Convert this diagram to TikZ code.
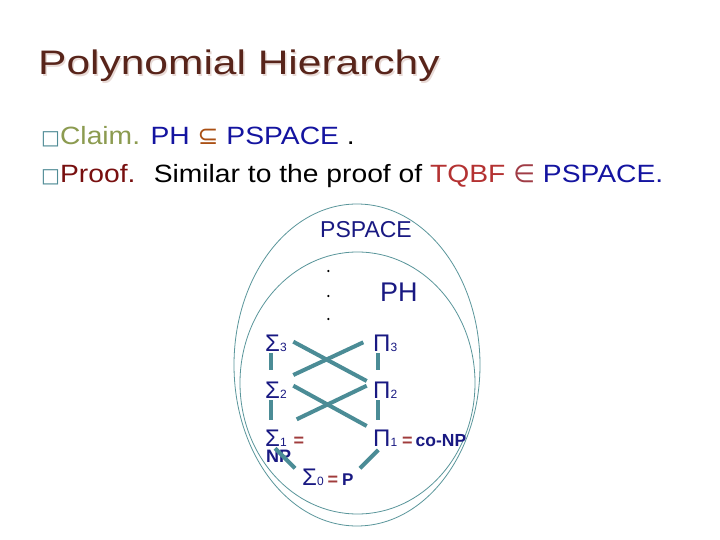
\documentclass[tikz,border=0pt]{standalone}
\usepackage{fontspec}
\setmainfont{Liberation Sans}
\newfontfamily\bodyfont[FakeStretch=1.13]{Liberation Sans}
\newfontfamily\headfont[FakeStretch=1.25]{Liberation Sans}
\newfontfamily\symfont{DejaVu Sans}
\usetikzlibrary{positioning,calc}

\definecolor{headbrown}{RGB}{88,36,26}
\definecolor{headshade}{RGB}{232,218,214}
\definecolor{boxteal}{RGB}{80,140,150}
\definecolor{claimgreen}{RGB}{140,155,80}
\definecolor{setblue}{RGB}{20,20,160}
\definecolor{subbrown}{RGB}{170,80,20}
\definecolor{proofred}{RGB}{120,15,15}
\definecolor{tqbfred}{RGB}{180,50,50}
\definecolor{inrose}{RGB}{160,60,70}
\definecolor{navy}{RGB}{25,25,130}
\definecolor{eqred}{RGB}{160,60,60}
\definecolor{linkteal}{RGB}{75,140,150}
\definecolor{ringteal}{RGB}{90,150,155}

\newcommand{\lvl}[1]{{\fontsize{12}{12}\selectfont #1}}
\newcommand{\eqsign}{{\fontsize{18}{18}\selectfont\bfseries\color{eqred}=}}
\newcommand{\bulletbox}{{\symfont\fontsize{20}{20}\selectfont\color{boxteal}□}}

\begin{document}
\begin{tikzpicture}
    [x=1pt,y=-1pt,
     txt/.style={inner sep=0pt, anchor=base west},
     line/.style={txt, font=\bodyfont\fontsize{25}{30}\selectfont},
     cls/.style={txt, text=navy, font=\fontsize{24}{24}\selectfont},
     tag/.style={txt, text=navy, font=\fontsize{18}{18}\selectfont\bfseries},
     link/.style={draw=linkteal, line width=4pt},
     ring/.style={draw=ringteal, line width=0.8pt}]

    \useasboundingbox (0,0) rectangle (720,540);
    \fill[white] (0,0) rectangle (720,540);

    \node[txt, text=headshade, font=\headfont\fontsize{34}{40}\selectfont] (shadow) at (39.5,76.5) {Polynomial Hierarchy};
    \node[txt, text=headbrown, font=\headfont\fontsize{34}{40}\selectfont] (title) at (38,75) {Polynomial Hierarchy};

    \node[line] (claim) at (41,145) {\bulletbox\textcolor{claimgreen}{Claim.} \textcolor{setblue}{PH} {\symfont\color{subbrown}⊆} \textcolor{setblue}{PSPACE} .};
    \node[line] (proof) at (41,183) {\bulletbox\textcolor{proofred}{Proof.}~ Similar to the proof of \textcolor{tqbfred}{TQBF} {\symfont\color{inrose}∈} \textcolor{setblue}{PSPACE.}};

    \draw[ring] (357,365) ellipse [x radius=123pt, y radius=161pt];
    \draw[ring] (357.5,383) ellipse [x radius=117.5pt, y radius=131pt];

    \node[txt, text=navy, font=\fontsize{23}{23}\selectfont] (pspace) at (320,237) {PSPACE};
    \node[txt, text=navy, font=\fontsize{27}{27}\selectfont] (ph) at (380,301.7) {PH};
    \foreach \y in {271,296,319}
      \fill (328.3,\y) circle (1.2pt);

    \node[cls] (s3) at (265,351) {Σ\lvl{3}};
    \node[cls, below=47pt of s3.base west, anchor=base west] (s2) {Σ\lvl{2}};
    \node[cls, below=48pt of s2.base west, anchor=base west] (s1) {Σ\lvl{1}\hspace{7pt}\eqsign};
    \node[cls, right=108pt of s3.base west, anchor=base west] (p3) {Π\lvl{3}};
    \node[cls, right=108pt of s2.base west, anchor=base west] (p2) {Π\lvl{2}};
    \node[cls, right=108pt of s1.base west, anchor=base west] (p1) {Π\lvl{1}\hspace{5pt}\eqsign\hspace{3pt}{\fontsize{17.5}{18}\selectfont\bfseries co-NP}};
    \node[tag, below=16pt of s1.base west, anchor=base west, xshift=1pt] (np) {NP};
    \node[cls] (s0) at (302,485) {Σ\lvl{0}\hspace{4pt}\eqsign\hspace{4pt}{\fontsize{17}{18}\selectfont\bfseries P}};

    \draw[link] ($(s3.base west)+(5.7,2.3)$) -- ($(s2.base west)+(5.7,-28)$);
    \draw[link] ($(s2.base west)+(5.7,2)$) -- ($(s1.base west)+(5.7,-26)$);
    \draw[link] ($(p3.base west)+(4.7,2.3)$) -- ($(p2.base west)+(4.7,-28)$);
    \draw[link] ($(p2.base west)+(4.7,2)$) -- ($(p1.base west)+(4.7,-26)$);
    \draw[link] ($(s3.base west)+(28.3,-9.3)$) -- ($(p2.base west)+(-6.3,-17)$);
    \draw[link] ($(s2.base west)+(28.3,-23)$) -- ($(p3.base west)+(-9.7,-8.7)$);
    \draw[link] ($(s2.base west)+(28.3,-12.3)$) -- ($(p1.base west)+(-6.3,-20)$);
    \draw[link] ($(s1.base west)+(31.7,-26.7)$) -- ($(p2.base west)+(-6.3,-12.3)$);
    \draw[link] ($(s1.base west)+(10,2.3)$) -- ($(s0.base west)+(-7,-16.7)$);
    \draw[link] ($(p1.base west)+(5.3,4)$) -- ($(s0.base west)+(58,-16.7)$);
\end{tikzpicture}
\end{document}
